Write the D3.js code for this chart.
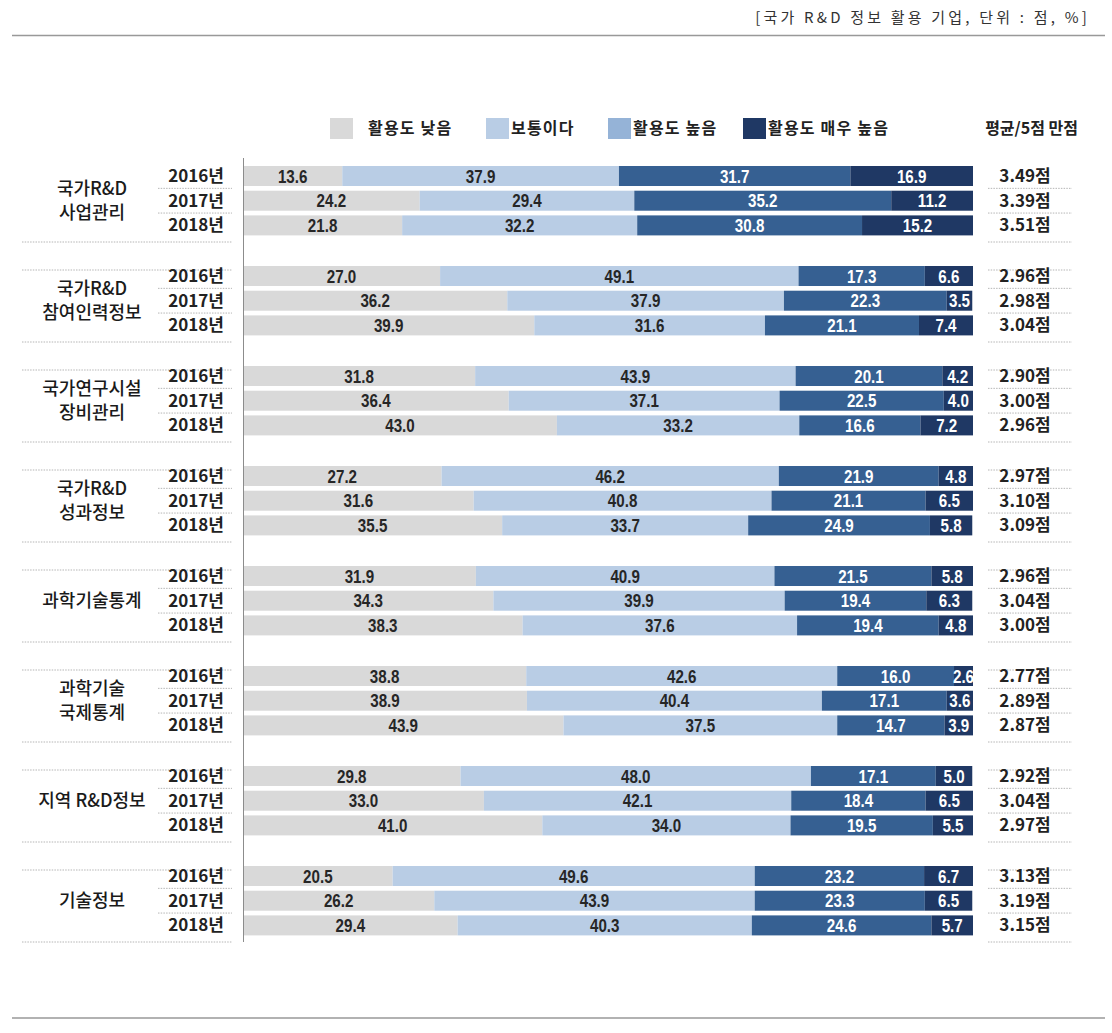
<!DOCTYPE html>
<html>
<head>
<meta charset="utf-8">
<script src="https://cdn.jsdelivr.net/npm/d3@7"></script>
<style>
  html, body { margin: 0; padding: 0; background: #fff; }
  svg { display: block; }
</style>
</head>
<body>
<svg id="chart" width="1112" height="1033"></svg>
<script>
// ---------- data ----------
const categories = ["국가R&D\n사업관리", "국가R&D\n참여인력정보", "국가연구시설\n장비관리", "국가R&D\n성과정보",
                    "과학기술통계", "과학기술\n국제통계", "지역 R&D정보", "기술정보"];
const years = ["2016년", "2017년", "2018년"];
const seriesNames = ["활용도 낮음", "보통이다", "활용도 높음", "활용도 매우 높음"];
// per category, per year
const low = [[13.6, 24.2, 21.8], [27.0, 36.2, 39.9], [31.8, 36.4, 43.0], [27.2, 31.6, 35.5],
             [31.9, 34.3, 38.3], [38.8, 38.9, 43.9], [29.8, 33.0, 41.0], [20.5, 26.2, 29.4]];
const normal = [[37.9, 29.4, 32.2], [49.1, 37.9, 31.6], [43.9, 37.1, 33.2], [46.2, 40.8, 33.7],
                [40.9, 39.9, 37.6], [42.6, 40.4, 37.5], [48.0, 42.1, 34.0], [49.6, 43.9, 40.3]];
const high = [[31.7, 35.2, 30.8], [17.3, 22.3, 21.1], [20.1, 22.5, 16.6], [21.9, 21.1, 24.9],
              [21.5, 19.4, 19.4], [16.0, 17.1, 14.7], [17.1, 18.4, 19.5], [23.2, 23.3, 24.6]];
const veryHigh = [[16.9, 11.2, 15.2], [6.6, 3.5, 7.4], [4.2, 4.0, 7.2], [4.8, 6.5, 5.8],
                  [5.8, 6.3, 4.8], [2.6, 3.6, 3.9], [5.0, 6.5, 5.5], [6.7, 6.5, 5.7]];
const scores = [[3.49, 3.39, 3.51], [2.96, 2.98, 3.04], [2.90, 3.00, 2.96], [2.97, 3.10, 3.09],
                [2.96, 3.04, 3.00], [2.77, 2.89, 2.87], [2.92, 3.04, 2.97], [3.13, 3.19, 3.15]];
const headerText = "[국가 R&D 정보 활용 기업, 단위 : 점, %]";
const scoreTitle = "평균/5점 만점";

// ---------- style ----------
const barColors = ["#d9d9d9", "#b9cde5", "#366092", "#1f3864"];
const legendColors = ["#d9d9d9", "#b9cde5", "#95b3d7", "#1f3864"];
const labelColors = ["#262626", "#262626", "#ffffff", "#ffffff"];
const KR = "'Noto Sans CJK KR', sans-serif";
const NUM = "'Liberation Sans', Arial, sans-serif";

const svg = d3.select("#chart");

const rows = [];
categories.forEach((c, ci) => {
  years.forEach((y, yi) => {
    rows.push({cat: c, ci, year: y, yi,
      vals: [low[ci][yi], normal[ci][yi], high[ci][yi], veryHigh[ci][yi]],
      score: scores[ci][yi]});
  });
});

// scales
const x = d3.scaleLinear().domain([0, 100]).range([243, 973]);
const yGroup = d3.scaleBand().domain(categories).range([166, 966]);
const yYear = d3.scaleBand().domain(years).range([0, 69.4]).paddingInner(0.19).paddingOuter(0);
const rowTop = r => yGroup(r.cat) + yYear(r.year);
const rowMid = r => rowTop(r) + yYear.bandwidth() / 2;

// header and rules
svg.append("text").attr("x", 1090).attr("y", 23).attr("text-anchor", "end")
  .attr("font-family", KR).attr("font-size", 15).attr("letter-spacing", 3.2)
  .attr("fill", "#333").text(headerText);
svg.append("line").attr("x1", 12).attr("x2", 1105).attr("y1", 35.5).attr("y2", 35.5)
  .attr("stroke", "#999").attr("stroke-width", 1.5);
svg.append("line").attr("x1", 12).attr("x2", 1105).attr("y1", 1018).attr("y2", 1018)
  .attr("stroke", "#999").attr("stroke-width", 1.5);

// legend
const legendX = [330, 486, 608, 743];
const legendG = svg.append("g");
seriesNames.forEach((n, i) => {
  legendG.append("rect").attr("x", legendX[i]).attr("y", 118).attr("width", 23).attr("height", 21)
    .attr("fill", legendColors[i]);
  legendG.append("text").attr("x", legendX[i] + (i === 0 ? 38 : 25)).attr("y", 134)
    .attr("font-family", KR).attr("font-size", 16).attr("font-weight", 700)
    .attr("fill", "#222").attr("letter-spacing", 1.2).text(n);
});
legendG.append("text").attr("x", 1078).attr("y", 134).attr("text-anchor", "end")
  .attr("font-family", KR).attr("font-size", 16).attr("font-weight", 700)
  .attr("fill", "#222").text(scoreTitle);

// stacked segments
const segs = [];
rows.forEach(r => {
  let acc = 0;
  r.vals.forEach((v, si) => {
    segs.push({r, si, v, x0: acc, x1: acc + v});
    acc += v;
  });
});
svg.append("g").selectAll("rect").data(segs).join("rect")
  .attr("x", d => x(d.x0)).attr("width", d => x(Math.min(d.x1, 100)) - x(d.x0))
  .attr("y", d => rowTop(d.r)).attr("height", yYear.bandwidth())
  .attr("fill", d => barColors[d.si]);
svg.append("g").selectAll("text").data(segs).join("text")
  .attr("transform", d => `translate(${x((d.x0 + Math.min(d.x1, 100)) / 2)},${rowMid(d.r) + 6.5}) scale(0.82,1)`)
  .attr("text-anchor", "middle")
  .attr("font-family", NUM).attr("font-weight", 700).attr("font-size", 18.5)
  .attr("fill", d => labelColors[d.si])
  .text(d => d.v.toFixed(1));

// axis line
svg.append("line").attr("x1", 243.5).attr("x2", 243.5).attr("y1", 158).attr("y2", 942)
  .attr("stroke", "#8c8c8c").attr("stroke-width", 1);

// dotted guides
const dots = svg.append("g").attr("stroke", "#b5b5b5").attr("stroke-width", 1)
  .attr("stroke-dasharray", "1.5,1.2");
categories.forEach((c, ci) => {
  const top = yGroup(c);
  const ys = [top + 76];
  if (ci > 0) ys.push(top + 4);
  ys.forEach(yy => {
    dots.append("line").attr("x1", 22).attr("x2", 232).attr("y1", yy).attr("y2", yy);
    dots.append("line").attr("x1", 988).attr("x2", 1072).attr("y1", yy).attr("y2", yy);
  });
  years.slice(0, 2).forEach(y => {
    const yy = top + yYear(y) + yYear.step() - (yYear.step() - yYear.bandwidth()) / 2;
    dots.append("line").attr("x1", 158).attr("x2", 232).attr("y1", yy).attr("y2", yy);
    dots.append("line").attr("x1", 988).attr("x2", 1072).attr("y1", yy).attr("y2", yy);
  });
});

// year labels
svg.append("g").selectAll("text").data(rows).join("text")
  .attr("x", 224).attr("y", d => rowMid(d) + 6).attr("text-anchor", "end")
  .attr("font-family", KR).attr("font-size", 17).attr("font-weight", 700)
  .attr("fill", "#222").text(d => d.year);

// score labels
svg.append("g").selectAll("text").data(rows).join("text")
  .attr("x", 1025).attr("y", d => rowMid(d) + 6).attr("text-anchor", "middle")
  .attr("font-family", KR).attr("font-size", 17).attr("font-weight", 700)
  .attr("fill", "#222").text(d => d.score.toFixed(2) + "점");

// category labels
categories.forEach(c => {
  const lines = c.split("\n");
  const mid = yGroup(c) + 69.4 / 2;
  const t = svg.append("text").attr("x", 92).attr("text-anchor", "middle")
    .attr("font-family", KR).attr("font-size", 18).attr("font-weight", 500)
    .attr("fill", "#1a1a1a");
  lines.forEach((l, i) => {
    t.append("tspan").attr("x", 92)
      .attr("y", mid + 6 + (i - (lines.length - 1) / 2) * 24).text(l);
  });
});
</script>
</body>
</html>
